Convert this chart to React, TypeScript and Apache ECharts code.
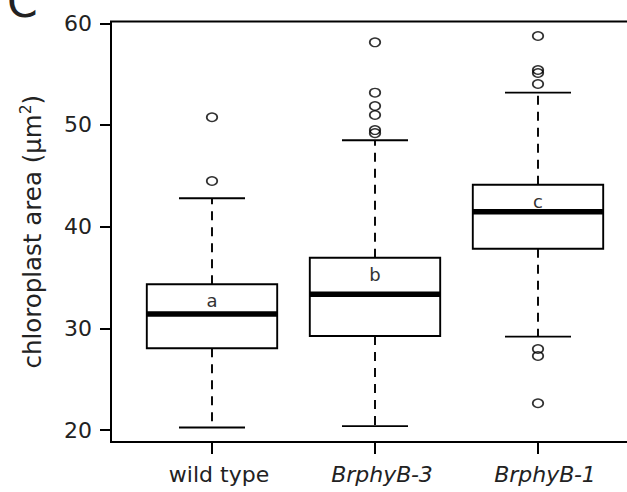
import React, { useEffect, useRef } from "react";
import * as echarts from "echarts";

const categories = ["wild type", "BrphyB-3", "BrphyB-1"];
const lowerWhisker = [20.24, 20.38, 29.18];
const q1 = [28.04, 29.25, 37.83];
const median = [31.41, 33.35, 41.47];
const q3 = [34.33, 36.95, 44.13];
const upperWhisker = [42.79, 48.5, 53.18];
const outliersWildType = [50.76, 44.49];
const outliersB3 = [58.13, 53.18, 51.87, 50.98, 49.5, 49.2];
const outliersB1 = [58.75, 55.41, 55.11, 54.03, 27.97, 27.28, 22.63];
const groupLetters = ["a", "b", "c"];
const yTicks = [20, 30, 40, 50, 60];

const FONT = "DejaVu Sans";

export default function App() {
  const ref = useRef<HTMLDivElement>(null);

  useEffect(() => {
    if (!ref.current) return;
    const chart = echarts.init(ref.current, undefined, { renderer: "svg" });

    const boxData = categories.map((_, i) => [
      i,
      lowerWhisker[i],
      q1[i],
      median[i],
      q3[i],
      upperWhisker[i],
    ]);
    const outlierGroups = [outliersWildType, outliersB3, outliersB1];
    const outlierData: number[][] = [];
    outlierGroups.forEach((arr, i) => arr.forEach((v) => outlierData.push([i, v])));

    const renderItem = (params: any, api: any) => {
      const idx = api.value(0);
      const lo = api.coord([idx, api.value(1)]);
      const pq1 = api.coord([idx, api.value(2)]);
      const pmed = api.coord([idx, api.value(3)]);
      const pq3 = api.coord([idx, api.value(4)]);
      const phi = api.coord([idx, api.value(5)]);
      const band = api.size([1, 0])[0];
      const cx = lo[0];
      const boxW = band * 0.8;
      const capW = band * 0.405;
      const lw = 1.9;
      const stroke = "#000";
      return {
        type: "group",
        children: [
          {
            type: "line",
            shape: { x1: cx, y1: pq3[1], x2: cx, y2: phi[1] },
            style: { stroke, lineWidth: lw, lineDash: [9, 7] },
          },
          {
            type: "line",
            shape: { x1: cx, y1: pq1[1], x2: cx, y2: lo[1] },
            style: { stroke, lineWidth: lw, lineDash: [9, 7] },
          },
          {
            type: "line",
            shape: { x1: cx - capW / 2, y1: phi[1], x2: cx + capW / 2, y2: phi[1] },
            style: { stroke, lineWidth: lw },
          },
          {
            type: "line",
            shape: { x1: cx - capW / 2, y1: lo[1], x2: cx + capW / 2, y2: lo[1] },
            style: { stroke, lineWidth: lw },
          },
          {
            type: "rect",
            shape: { x: cx - boxW / 2, y: pq3[1], width: boxW, height: pq1[1] - pq3[1] },
            style: { stroke, lineWidth: lw, fill: "#fff" },
          },
          {
            type: "line",
            shape: { x1: cx - boxW / 2, y1: pmed[1], x2: cx + boxW / 2, y2: pmed[1] },
            style: { stroke, lineWidth: 5.5 },
          },
          {
            type: "text",
            style: {
              text: groupLetters[idx],
              x: cx,
              y: pq3[1] + 16.5,
              align: "center",
              verticalAlign: "middle",
              fontSize: 18,
              fontFamily: FONT,
              fill: "#333",
            },
          },
        ],
      };
    };

    chart.setOption({
      animation: false,
      grid: { left: 130.5, right: 7.5, top: 21.5, bottom: 50, containLabel: false },
      xAxis: {
        type: "category",
        data: categories,
        axisLine: { show: false },
        axisTick: {
          show: true,
          alignWithLabel: true,
          length: 12,
          lineStyle: { color: "#000", width: 2 },
        },
        axisLabel: {
          interval: 0,
          hideOverlap: false,
          fontSize: 22,
          fontFamily: FONT,
          color: "#222",
          margin: 21,
          padding: [0, 0, 0, 14],
          formatter: (v: string) => (v === "wild type" ? v : "{i|" + v + "}"),
          rich: {
            i: { fontSize: 22, fontFamily: FONT, fontStyle: "italic", color: "#222" },
          },
        },
        splitLine: { show: false },
      },
      yAxis: {
        type: "value",
        min: 18.82,
        max: 60.18,
        offset: 19.5,
        axisLine: { show: false },
        axisTick: {
          show: true,
          length: 11,
          customValues: yTicks,
          lineStyle: { color: "#000", width: 2 },
        },
        axisLabel: {
          fontSize: 22,
          fontFamily: FONT,
          color: "#222",
          margin: 19,
          customValues: yTicks,
        },
        splitLine: { show: false },
        name: "chloroplast area (µm{sup|2})",
        nameLocation: "middle",
        nameGap: 64,
        nameRotate: 90,
        nameTextStyle: {
          fontSize: 24.5,
          fontFamily: FONT,
          color: "#222",
          lineHeight: 29,
          rich: {
            sup: {
              fontSize: 15.5,
              fontFamily: FONT,
              color: "#222",
              lineHeight: 15.5,
              verticalAlign: "top",
            },
          },
        },
      },
      graphic: [
        {
          type: "rect",
          shape: { x: 111, y: 21.5, width: 800, height: 420.5 },
          style: { stroke: "#000", lineWidth: 2, fill: "none" },
          z: 100,
          silent: true,
        },
        {
          type: "text",
          style: {
            text: "C",
            x: 7,
            y: 23,
            fontSize: 44,
            fontFamily: FONT,
            fill: "#222",
            verticalAlign: "bottom",
          },
        },
      ],
      series: [
        {
          type: "custom",
          data: boxData,
          renderItem,
          encode: { x: 0, y: [1, 2, 3, 4, 5] },
          z: 2,
        },
        {
          type: "scatter",
          data: outlierData,
          symbol: "circle",
          symbolSize: [10.5, 8.5],
          itemStyle: { color: "transparent", borderColor: "#000", borderWidth: 1.6 },
          z: 3,
        },
      ],
    });

    return () => chart.dispose();
  }, []);

  return (
    <div
      ref={ref}
      style={{ position: "absolute", left: 0, top: 0, width: 627, height: 492 }}
    />
  );
}
